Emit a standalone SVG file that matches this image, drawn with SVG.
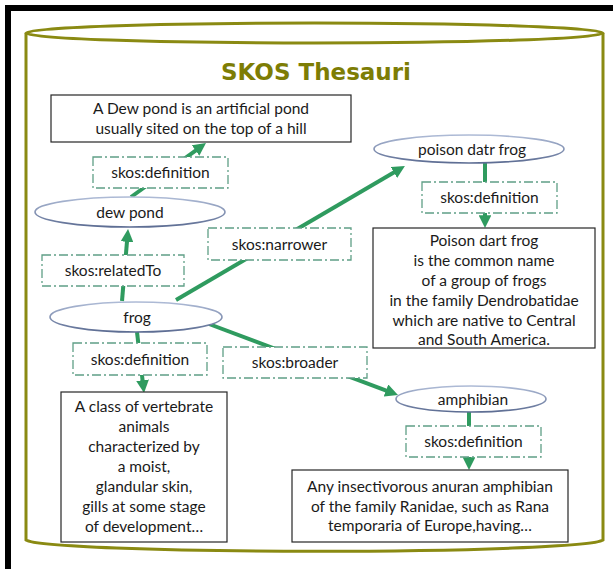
<svg xmlns="http://www.w3.org/2000/svg" width="613" height="569" viewBox="0 0 613 569">
  <defs>
    <style>
      .frame { fill: #000; }
      .drum { fill: #fff; stroke: #8a8a12; stroke-width: 3; }
      .title { font-family: "DejaVu Sans", "Liberation Sans", sans-serif; font-weight: bold; font-size: 23px; fill: #7d7d05; text-anchor: middle; }
      .txt { font-family: Lato, "Liberation Sans", sans-serif; font-size: 15.5px; fill: #1a1a1a; text-anchor: middle; }
      .box { fill: #fff; stroke: #262626; stroke-width: 1.2; }
      .lbl { fill: #fff; stroke: #5f9f86; stroke-width: 1.3; stroke-dasharray: 9 3 2 3; }
      .concept { fill: #fff; stroke: url(#rim); stroke-width: 1.6; }
      .link { fill: none; stroke: #2f9b5f; stroke-width: 4; marker-end: url(#head); }
    </style>
    <linearGradient id="rim" x1="0" y1="0" x2="0" y2="1">
      <stop offset="0" stop-color="#aebbd6"/>
      <stop offset="1" stop-color="#5d6d93"/>
    </linearGradient>
    <marker id="head" viewBox="0 0 10 10" refX="3" refY="5" markerWidth="3.2" markerHeight="3.2" orient="auto" markerUnits="strokeWidth">
      <path d="M0,0 L10,5 L0,10 z" fill="#2f9b5f"/>
    </marker>
  </defs>

  <!-- black border, top and left -->
  <rect class="frame" x="5" y="5" width="608" height="6"/>
  <rect class="frame" x="5" y="5" width="6" height="564"/>

  <!-- thesaurus store drawn as a cylinder -->
  <g id="store">
    <path class="drum" d="M26,33 L26,540 A289,12 0 0 0 603,540 L603,33"/>
    <ellipse class="drum" cx="314.5" cy="33" rx="288.5" ry="10"/>
    <text class="title" x="316" y="80">SKOS Thesauri</text>
  </g>

  <g id="connectors">
    <line class="link" x1="131" y1="197" x2="198.7" y2="148.3"/>
    <line class="link" x1="122" y1="301" x2="127.3" y2="238"/>
    <line class="link" x1="176" y1="300" x2="397.2" y2="170.5"/>
    <line class="link" x1="485" y1="162" x2="485" y2="219"/>
    <line class="link" x1="137" y1="332" x2="143" y2="384"/>
    <line class="link" x1="209" y1="324" x2="389.6" y2="391.8"/>
    <line class="link" x1="469" y1="412" x2="469" y2="461"/>

    <g id="lbl-dew-def">
      <rect class="lbl" x="93" y="157" width="135" height="31"/>
      <text class="txt" x="160.5" y="178">skos:definition</text>
    </g>
    <g id="lbl-related">
      <rect class="lbl" x="42" y="255" width="142" height="31"/>
      <text class="txt" x="113" y="276">skos:relatedTo</text>
    </g>
    <g id="lbl-narrower">
      <rect class="lbl" x="208" y="228" width="143" height="32"/>
      <text class="txt" x="279.5" y="249.5">skos:narrower</text>
    </g>
    <g id="lbl-poison-def">
      <rect class="lbl" x="422" y="182" width="135" height="31"/>
      <text class="txt" x="489.5" y="203">skos:definition</text>
    </g>
    <g id="lbl-frog-def">
      <rect class="lbl" x="73" y="343" width="134" height="32"/>
      <text class="txt" x="140" y="364.5">skos:definition</text>
    </g>
    <g id="lbl-broader">
      <rect class="lbl" x="223" y="347" width="144" height="31"/>
      <text class="txt" x="295" y="368">skos:broader</text>
    </g>
    <g id="lbl-amph-def">
      <rect class="lbl" x="406" y="426" width="135" height="31"/>
      <text class="txt" x="473.5" y="447">skos:definition</text>
    </g>
  </g>

  <!-- concepts -->
  <g id="dew-pond">
    <ellipse class="concept" cx="130" cy="212" rx="95" ry="15"/>
    <text class="txt" x="130" y="217.5">dew pond</text>
  </g>
  <g id="frog">
    <ellipse class="concept" cx="136" cy="317" rx="86" ry="15"/>
    <text class="txt" x="137" y="322.5">frog</text>
  </g>
  <g id="poison-dart-frog">
    <ellipse class="concept" cx="469" cy="149" rx="95" ry="14"/>
    <text class="txt" x="472" y="154.5">poison datr frog</text>
  </g>
  <g id="amphibian">
    <ellipse class="concept" cx="471" cy="399" rx="75" ry="13"/>
    <text class="txt" x="473" y="404.5">amphibian</text>
  </g>

  <!-- definitions -->
  <g id="dew-pond-text">
    <rect class="box" x="51" y="95" width="300" height="47"/>
    <text class="txt" x="201" y="113.5">A Dew pond is an artificial pond</text>
    <text class="txt" x="201" y="134">usually sited on the top of a hill</text>
  </g>
  <g id="poison-dart-frog-text">
    <rect class="box" x="373" y="228" width="222" height="120"/>
    <text class="txt" x="484" y="246">Poison dart frog</text>
    <text class="txt" x="484" y="266">is the common name</text>
    <text class="txt" x="484" y="286">of a group of frogs</text>
    <text class="txt" x="484" y="306">in the family Dendrobatidae</text>
    <text class="txt" x="484" y="326">which are native to Central</text>
    <text class="txt" x="484" y="345">and South America.</text>
  </g>
  <g id="frog-text">
    <rect class="box" x="61" y="392" width="166" height="150"/>
    <text class="txt" x="144" y="412">A class of vertebrate</text>
    <text class="txt" x="144" y="432">animals</text>
    <text class="txt" x="144" y="452">characterized by</text>
    <text class="txt" x="144" y="472">a moist,</text>
    <text class="txt" x="144" y="492">glandular skin,</text>
    <text class="txt" x="144" y="512">gills at some stage</text>
    <text class="txt" x="144" y="532">of development…</text>
  </g>
  <g id="amphibian-text">
    <rect class="box" x="292" y="470" width="276" height="72"/>
    <text class="txt" x="430" y="492">Any insectivorous anuran amphibian</text>
    <text class="txt" x="430" y="512">of the family Ranidae, such as Rana</text>
    <text class="txt" x="430" y="531">temporaria of Europe,having…</text>
  </g>
</svg>
